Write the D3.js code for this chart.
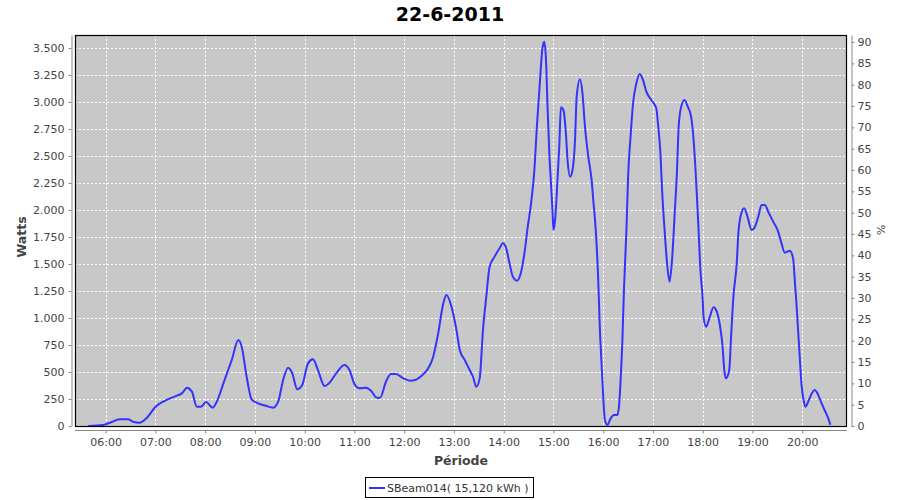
<!DOCTYPE html>
<html><head><meta charset="utf-8">
<script src="https://cdn.jsdelivr.net/npm/d3@7"></script>
<style>body{margin:0;background:#fff}svg{display:block}</style>
</head><body>
<svg id="c" width="900" height="500"></svg>
<script>
const times = ["05:39","05:57","06:05","06:17","06:27","06:33","06:41","06:49","07:01","07:13","07:26","07:32","07:38","07:44","07:50","07:55","08:01","08:09","08:14","08:22","08:32","08:40","08:44","08:50","08:56","09:04","09:14","09:22","09:28","09:34","09:40","09:45","09:51","09:57","10:04","10:10","10:16","10:24","10:30","10:38","10:48","10:54","11:00","11:06","11:14","11:20","11:27","11:31","11:38","11:44","11:50","11:59","12:07","12:13","12:21","12:29","12:35","12:41","12:47","12:51","12:57","13:03","13:07","13:13","13:19","13:23","13:27","13:31","13:35","13:39","13:43","13:49","13:55","13:59","14:03","14:07","14:11","14:16","14:20","14:25","14:29","14:33","14:37","14:40","14:43","14:47","14:49","14:51","14:53","14:55","14:57","14:59","15:00","15:02","15:04","15:07","15:09","15:12","15:15","15:17","15:20","15:23","15:26","15:28","15:32","15:35","15:38","15:42","15:46","15:48","15:51","15:54","15:56","15:58","16:00","16:02","16:05","16:09","16:13","16:17","16:19","16:21","16:23","16:25","16:28","16:30","16:33","16:36","16:40","16:44","16:48","16:52","16:58","17:04","17:06","17:09","17:11","17:14","17:17","17:20","17:23","17:26","17:29","17:31","17:34","17:38","17:42","17:46","17:49","17:52","17:55","17:57","18:00","18:01","18:04","18:08","18:13","18:17","18:21","18:24","18:26","18:28","18:32","18:34","18:37","18:41","18:43","18:46","18:50","18:54","18:59","19:03","19:07","19:11","19:15","19:19","19:25","19:31","19:35","19:39","19:45","19:49","19:51","19:53","19:55","19:57","19:59","20:02","20:04","20:08","20:12","20:15","20:19","20:23","20:27","20:31","20:34"];
const watts = [0,10,30,62,62,40,30,71,185,240,281,302,355,318,179,179,222,170,225,395,611,796,734,456,247,210,185,170,225,426,540,488,340,380,580,617,518,370,401,488,565,518,389,349,355,327,262,262,410,481,481,441,420,426,466,534,642,858,1130,1213,1105,889,704,611,518,456,364,441,889,1197,1475,1568,1645,1691,1645,1506,1383,1345,1398,1599,1845,2062,2370,2771,3111,3512,3558,3389,2926,2525,2247,1969,1815,1907,2154,2586,2950,2926,2710,2463,2308,2370,2648,3049,3210,3080,2771,2494,2278,2093,1815,1352,889,580,271,56,10,71,102,102,179,426,766,1259,1815,2308,2679,2988,3173,3259,3204,3095,3019,2941,2803,2525,2185,1815,1506,1336,1537,1938,2370,2771,2956,3019,2956,2864,2648,2278,1815,1475,1167,1012,919,997,1099,1058,919,734,518,441,518,796,1197,1506,1784,1954,2015,1938,1815,1845,1938,2046,2046,1984,1892,1799,1691,1605,1623,1552,1352,1136,889,642,395,225,179,241,308,333,293,216,148,80,10];
const xTickLabels = ["06:00","07:00","08:00","09:00","10:00","11:00","12:00","13:00","14:00","15:00","16:00","17:00","18:00","19:00","20:00"];
const wattTicks = [0,250,500,750,1000,1250,1500,1750,2000,2250,2500,2750,3000,3250,3500];
const pctTicks = [0,5,10,15,20,25,30,35,40,45,50,55,60,65,70,75,80,85,90];
const title = "22-6-2011";
const seriesName = "SBeam014( 15,120 kWh )";

const toMin = s => { const [h,m] = s.split(":").map(Number); return h*60+m; };
const data = times.map((t,i)=>({t:toMin(t), v:watts[i]}));

const L=75, T=35, R=847, B=426;
const svg = d3.select("#c");
const font = "DejaVu Sans, sans-serif";

const x = d3.scaleLinear().domain([323,1254]).range([L,R]);
const y = d3.scaleLinear().domain([0,3620]).range([B,T]);
const y2 = d3.scaleLinear().domain([0,91.64]).range([B,T]);

// plot background
svg.append("rect").attr("x",L).attr("y",T).attr("width",R-L).attr("height",B-T).attr("fill","#c8c8c8");

// grid
const g = svg.append("g").attr("stroke","#fff").attr("stroke-width",1).attr("stroke-dasharray","2,2");
wattTicks.forEach(v=>{ const yy=Math.round(y(v))+0.5; g.append("line").attr("x1",L).attr("x2",R).attr("y1",yy).attr("y2",yy); });
xTickLabels.forEach(s=>{ const xx=Math.round(x(toMin(s)))+0.5; g.append("line").attr("x1",xx).attr("x2",xx).attr("y1",T).attr("y2",B); });

// line
svg.append("path").datum(data)
  .attr("d", d3.line().x(d=>x(d.t)).y(d=>y(d.v)).curve(d3.curveMonotoneX))
  .attr("fill","none").attr("stroke","#3333ff").attr("stroke-width",2);

// frame
svg.append("rect").attr("x",L+0.5).attr("y",T+0.5).attr("width",R-L-1).attr("height",B-T).attr("fill","none").attr("stroke","#000").attr("stroke-width",1.2);

const fmt = v => v>=1000 ? Math.floor(v/1000)+"."+String(v%1000).padStart(3,"0") : String(v);

function styleAxis(sel){
  sel.selectAll("path").attr("stroke","#888");
  sel.selectAll("line").attr("stroke","#888");
  sel.selectAll("text").attr("fill","#444").style("font-family",font).style("font-size","11px");
}

const ax = svg.append("g").attr("transform","translate(0,430.5)")
  .call(d3.axisBottom(x).tickValues(xTickLabels.map(toMin)).tickFormat((d,i)=>xTickLabels[i]).tickSize(3).tickSizeOuter(0).tickPadding(5));
ax.select(".domain").attr("d",`M${L},0H${R}`);
styleAxis(ax);

const ay = svg.append("g").attr("transform","translate(71.5,0)")
  .call(d3.axisLeft(y).tickValues(wattTicks).tickFormat(fmt).tickSize(3).tickSizeOuter(0).tickPadding(4));
styleAxis(ay);

const ay2 = svg.append("g").attr("transform","translate(851.5,0)")
  .call(d3.axisRight(y2).tickValues(pctTicks).tickSize(3).tickSizeOuter(0).tickPadding(3));
styleAxis(ay2);

// titles
svg.append("text").attr("x",450).attr("y",21).attr("text-anchor","middle")
  .style("font-family",font).style("font-weight","bold").style("font-size","19px").attr("fill","#000").text(title);
svg.append("text").attr("transform","translate(26,237) rotate(-90)").attr("text-anchor","middle")
  .style("font-family",font).style("font-weight","bold").style("font-size","12.5px").attr("fill","#444").text("Watts");
svg.append("text").attr("x",461).attr("y",465).attr("text-anchor","middle")
  .style("font-family",font).style("font-weight","bold").style("font-size","12.5px").attr("fill","#444").text("Période");
svg.append("text").attr("transform","translate(877,230) rotate(90)").attr("text-anchor","middle")
  .style("font-family",font).style("font-size","11px").attr("fill","#444").text("%");

// legend
const lg = svg.append("g");
lg.append("rect").attr("x",365.5).attr("y",477.5).attr("width",168).attr("height",20).attr("fill","#fff").attr("stroke","#000");
lg.append("line").attr("x1",369).attr("x2",385).attr("y1",488).attr("y2",488).attr("stroke","#3333ff").attr("stroke-width",2);
lg.append("text").attr("x",387).attr("y",492).style("font-family",font).style("font-size","11px").attr("fill","#333").text(seriesName);
</script>
</body></html>
